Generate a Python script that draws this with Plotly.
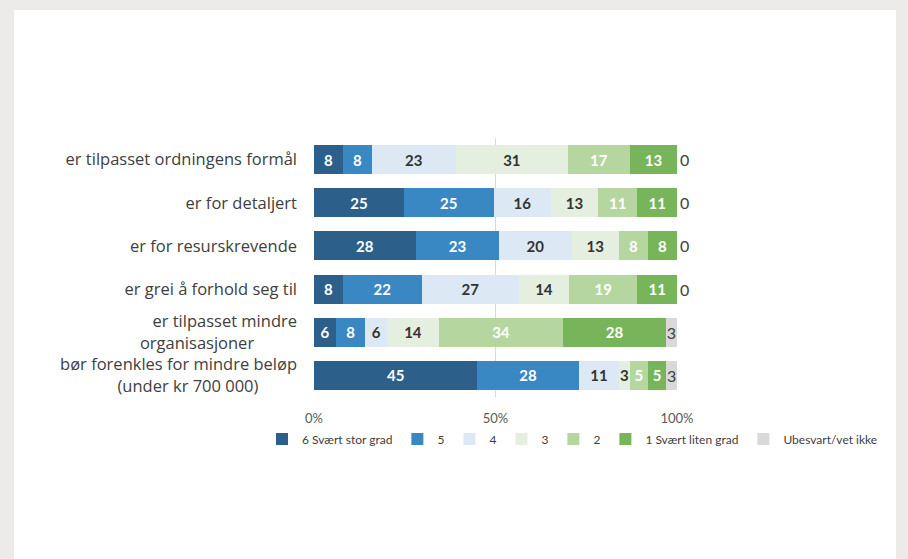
import plotly.graph_objects as go

categories = [
    "er tilpasset ordningens formål",
    "er for detaljert",
    "er for resurskrevende",
    "er grei å forhold seg til",
    "er tilpasset mindre<br>organisasjoner" + "\u00a0" * 10,
    "bør forenkles for mindre beløp<br>(under kr 700 000)" + "\u00a0" * 9,
]
series_names = ["6 Svært stor grad", "5", "4", "3", "2", "1 Svært liten grad", "Ubesvart/vet ikke"]
v6 = [8, 25, 28, 8, 6, 45]
v5 = [8, 25, 23, 22, 8, 28]
v4 = [23, 16, 20, 27, 6, 11]
v3 = [31, 13, 13, 14, 14, 3]
v2 = [17, 11, 8, 19, 34, 5]
v1 = [13, 11, 8, 11, 28, 5]
vu = [0, 0, 0, 0, 3, 3]
values = [v6, v5, v4, v3, v2, v1, vu]
x_ticks = [0, 50, 100]

colors = ["#2D5F8B", "#3A88C3", "#DCE9F5", "#E5EFDF", "#B6D6A0", "#78B45A", "#D9D9D9"]
text_colors = ["white", "white", "#333333", "#333333", "white", "white", "#404040"]

FONT = "Lato"
LABEL_FONT = "Open Sans"

fig = go.Figure()
for i, (name, vals) in enumerate(zip(series_names, values)):
    last = i == len(series_names) - 1
    if last:
        tpos = ["outside" if v == 0 else "inside" for v in vals]
    else:
        tpos = "inside"
    fig.add_trace(go.Bar(
        name=name,
        y=categories,
        x=vals,
        orientation="h",
        marker=dict(color=colors[i], line=dict(width=0)),
        text=[str(v) for v in vals],
        texttemplate="%{text}",
        textposition=tpos,
        insidetextanchor="middle",
        constraintext="none",
        cliponaxis=False,
        textfont=dict(family=FONT, size=16 if last else 15, color=text_colors[i],
                      weight="normal" if last else "bold"),
        hoverinfo="x+y+name",
    ))

# pixel geometry of plot area
L, R, T, B = 314, 677, 138, 397
W, H = 908, 559

def px_x(p):
    return (p - L) / (R - L)

def px_y(p):
    return (B - p) / (B - T)

fig.add_shape(type="rect", xref="paper", yref="paper",
              x0=px_x(14), x1=px_x(896), y0=px_y(559), y1=px_y(10),
              fillcolor="white", line=dict(width=0), layer="below")

fig.update_layout(
    width=W, height=H,
    margin=dict(l=L, r=W - R, t=T, b=H - B, pad=0),
    paper_bgcolor="#ECEBE9",
    plot_bgcolor="rgba(0,0,0,0)",
    barmode="stack",
    barnorm="percent",
    bargap=0.33,
    font=dict(family=FONT, color="#404040"),
    showlegend=True,
    legend=dict(
        orientation="h",
        x=px_x(262), xanchor="left",
        y=px_y(439), yanchor="middle",
        font=dict(family=FONT, size=12, color="#404040"),
        itemwidth=30,
        tracegroupgap=0,
        traceorder="normal",
        bgcolor="rgba(0,0,0,0)",
    ),
)
fig.update_xaxes(
    range=[0, 100],
    tickvals=x_ticks,
    ticktext=[f"{t}%" for t in x_ticks],
    showgrid=True, gridcolor="#D9D9D9", gridwidth=1,
    zeroline=False,
    showline=False,
    tickfont=dict(family=FONT, size=13, color="#595959"),
    ticklabelstandoff=12,
    fixedrange=True,
)
fig.update_yaxes(
    autorange="reversed",
    showgrid=False,
    showline=False,
    tickfont=dict(family=LABEL_FONT, size=16.5, color="#404040"),
    ticklabelstandoff=16,
    fixedrange=True,
)

fig.write_html("out.html")
